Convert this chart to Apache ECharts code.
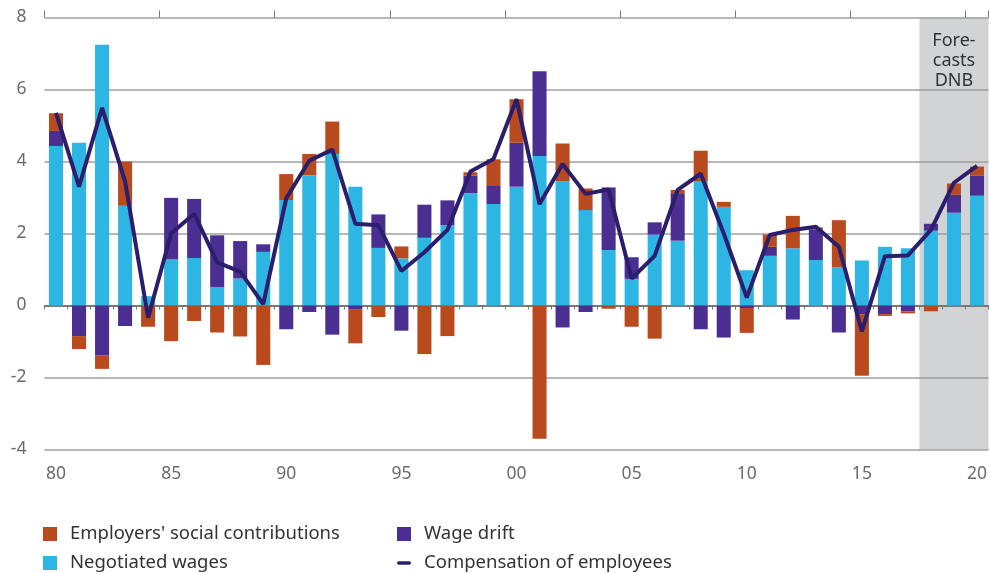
<!DOCTYPE html>
<html>
<head>
<meta charset="utf-8">
<script src="https://cdn.jsdelivr.net/npm/echarts@6/dist/echarts.min.js"></script>
<style>
  html, body { margin: 0; padding: 0; background: #fff; }
  #chart { width: 990px; height: 573px; }
</style>
</head>
<body>
<div id="chart"></div>
<script>
const years = ["80","81","82","83","84","85","86","87","88","89",
  "90","91","92","93","94","95","96","97","98","99",
  "00","01","02","03","04","05","06","07","08","09",
  "10","11","12","13","14","15","16","17","18","19","20"];

const negotiatedWages = [4.43, 4.52, 7.24, 2.77, 0.26, 1.28, 1.32, 0.51, 0.75, 1.49,
  2.93, 3.62, 4.21, 3.30, 1.60, 1.31, 1.88, 2.23, 3.12, 2.82,
  3.30, 4.15, 3.45, 2.65, 1.54, 0.74, 1.97, 1.80, 3.44, 2.74,
  0.98, 1.38, 1.59, 1.26, 1.06, 1.25, 1.63, 1.59, 2.08, 2.58, 3.05];

const wageDrift = [0.42, -0.85, -1.38, -0.57, 0, 1.71, 1.64, 1.44, 1.04, 0.21,
  -0.66, -0.18, -0.81, -0.10, 0.93, -0.70, 0.92, 0.69, 0.49, 0.50,
  1.22, 2.36, -0.61, -0.18, 1.74, 0.60, 0.34, 1.32, -0.66, -0.89,
  -0.07, 0.25, -0.39, 0.84, -0.75, -0.24, -0.24, -0.16, 0.19, 0.50, 0.56];

const socialContributions = [0.49, -0.36, -0.38, 1.23, -0.59, -0.99, -0.43, -0.75, -0.86, -1.65,
  0.72, 0.59, 0.90, -0.95, -0.32, 0.33, -1.35, -0.85, 0.09, 0.74,
  1.21, -3.70, 1.05, 0.60, -0.09, -0.59, -0.92, 0.09, 0.86, 0.14,
  -0.69, 0.34, 0.90, 0.07, 1.31, -1.71, -0.05, -0.06, -0.16, 0.31, 0.25];

const compensation = [5.35, 3.30, 5.49, 3.45, -0.34, 2.00, 2.55, 1.20, 0.94, 0.04,
  2.98, 4.02, 4.33, 2.27, 2.23, 0.96, 1.48, 2.10, 3.72, 4.07,
  5.73, 2.82, 3.93, 3.10, 3.22, 0.75, 1.38, 3.21, 3.66, 2.00,
  0.22, 1.96, 2.10, 2.19, 1.63, -0.72, 1.37, 1.39, 2.10, 3.41, 3.88];

const yTicks = [-4, -2, 0, 2, 4, 6, 8];

const ORANGE = "#b84a1d";
const CYAN = "#2db6e4";
const PURPLE = "#4b2e91";
const NAVY = "#2b1e6c";

const chart = echarts.init(document.getElementById("chart"), null, { renderer: "canvas" });

const font = "Noto Sans";

// legend text style, shared by both legend columns
const legendText = { fontSize: 18.5, lineHeight: 20, color: "#333", padding: [0, 0, 0, 8], fontFamily: font };

chart.setOption({
  animation: false,
  textStyle: { fontFamily: font },
  grid: { left: 44.5, right: 0, top: 17.5, bottom: 123.5, containLabel: false },
  xAxis: [
    {
      type: "category",
      data: years,
      boundaryGap: true,
      axisLine: { onZero: true, lineStyle: { color: "#666", width: 1.5 } },
      axisTick: { show: true, interval: 0, length: 4, lineStyle: { color: "#777" } },
      axisLabel: { show: false },
      splitLine: { show: false }
    },
    {
      type: "category",
      data: years,
      boundaryGap: true,
      position: "bottom",
      axisLine: { show: false },
      axisTick: { show: false },
      axisLabel: { interval: 4, margin: 16, fontSize: 17.5, color: "#6b6b6b", fontFamily: font },
      splitLine: { show: false }
    },
    {
      type: "value",
      min: 0,
      max: 41,
      show: false
    },
    {
      type: "category",
      data: years,
      boundaryGap: true,
      axisLine: { show: false },
      axisTick: { show: true, interval: 4, length: 7, lineStyle: { color: "#777" } },
      axisLabel: { show: false },
      splitLine: { show: false }
    }
  ],
  yAxis: {
    type: "value",
    min: yTicks[0],
    max: yTicks[yTicks.length - 1],
    interval: 2,
    axisLine: { show: false },
    axisTick: { show: false },
    axisLabel: { margin: 18, fontSize: 17.5, color: "#6b6b6b", fontFamily: font },
    splitLine: { lineStyle: { color: "#9f9f9f", width: 1.5 } }
  },
  legend: [
    {
      left: 43, top: 524, orient: "vertical", padding: 0, height: 50,
      itemWidth: 14, itemHeight: 14, itemGap: 9,
      icon: "rect",
      textStyle: legendText,
      data: ["Employers' social contributions", "Negotiated wages"]
    },
    {
      left: 397, top: 524, orient: "vertical", padding: 0, height: 50,
      itemWidth: 14, itemHeight: 14, itemGap: 9,
      textStyle: legendText,
      data: [
        { name: "Wage drift", icon: "rect" },
        { name: "Compensation of employees", icon: "path://M2,0 L15,0 A2,2 0 0 1 15,4 L2,4 A2,2 0 0 1 2,0 Z" }
      ]
    }
  ],
  series: [
    {
      name: "forecast",
      type: "line",
      xAxisIndex: 2,
      data: [],
      silent: true,
      markArea: {
        silent: true,
        z: -1,
        itemStyle: { color: "#d2d3d5" },
        label: {
          show: true,
          position: "insideTop",
          distance: 13,
          formatter: "Fore-\ncasts\nDNB",
          fontSize: 18,
          lineHeight: 20,
          color: "#333",
          fontFamily: font
        },
        data: [[{ xAxis: 38 }, { xAxis: 41 }]]
      }
    },
    {
      name: "Negotiated wages",
      type: "bar",
      stack: "total",
      barWidth: "61%",
      itemStyle: { color: CYAN },
      data: negotiatedWages
    },
    {
      name: "Wage drift",
      type: "bar",
      stack: "total",
      itemStyle: { color: PURPLE },
      data: wageDrift
    },
    {
      name: "Employers' social contributions",
      type: "bar",
      stack: "total",
      itemStyle: { color: ORANGE },
      data: socialContributions
    },
    {
      name: "Compensation of employees",
      type: "line",
      symbol: "none",
      z: 5,
      itemStyle: { color: NAVY },
      lineStyle: { color: NAVY, width: 4 },
      data: compensation
    }
  ]
});
</script>
</body>
</html>
